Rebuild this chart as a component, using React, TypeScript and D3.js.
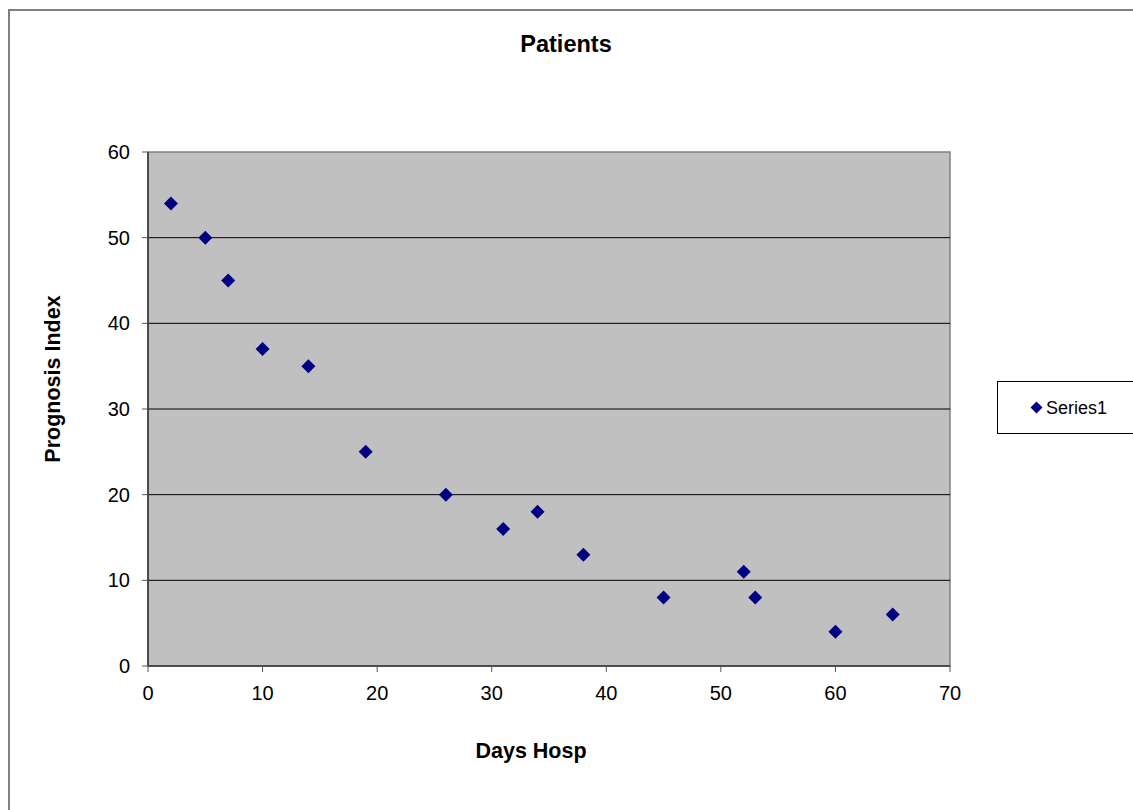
import React from "react";
import * as d3 from "d3";

const days = [2, 5, 7, 10, 14, 19, 26, 31, 34, 38, 45, 52, 53, 60, 65];
const prognosis = [54, 50, 45, 37, 35, 25, 20, 16, 18, 13, 8, 11, 8, 4, 6];
const xTicks = [0, 10, 20, 30, 40, 50, 60, 70];
const yTicks = [0, 10, 20, 30, 40, 50, 60];
const seriesName = "Series1";
const chartTitle = "Patients";
const xTitle = "Days Hosp";
const yTitle = "Prognosis Index";

const W = 1133;
const H = 810;
const plot = { left: 148, right: 950, top: 152, bottom: 666 };
const FONT = "'Liberation Sans', Arial, Helvetica, sans-serif";
const MARK = "#000080";

function diamond(cx: number, cy: number, r: number) {
  return `M${cx},${cy - r}L${cx + r},${cy}L${cx},${cy + r}L${cx - r},${cy}Z`;
}

export default function App() {
  const x = d3.scaleLinear().domain([0, 70]).range([plot.left, plot.right]);
  const y = d3.scaleLinear().domain([0, 60]).range([plot.bottom, plot.top]);

  return (
    <svg
      width={W}
      height={H}
      style={{ position: "absolute", left: 0, top: 0, display: "block", background: "#fff" }}
      fontFamily={FONT}
    >
      {/* outer chart border */}
      <rect x={9} y={10} width={1300} height={1000} fill="#fff" stroke="#808080" strokeWidth={2} />

      {/* title */}
      <text x={566} y={52} textAnchor="middle" fontSize={23.5} fontWeight="bold" fill="#000">
        {chartTitle}
      </text>

      {/* plot area */}
      <rect
        x={plot.left}
        y={plot.top}
        width={plot.right - plot.left}
        height={plot.bottom - plot.top}
        fill="#c0c0c0"
        stroke="#808080"
        strokeWidth={1.5}
      />

      {/* gridlines */}
      {yTicks
        .filter((t) => t !== 0 && t !== 60)
        .map((t) => (
          <line key={"g" + t} x1={plot.left} x2={plot.right} y1={y(t)} y2={y(t)} stroke="#000" strokeWidth={1} />
        ))}

      {/* axes */}
      <line x1={plot.left} x2={plot.left} y1={plot.top} y2={plot.bottom} stroke="#333" strokeWidth={1.5} />
      <line x1={plot.left} x2={plot.right} y1={plot.bottom} y2={plot.bottom} stroke="#333" strokeWidth={1.5} />

      {/* y ticks */}
      {yTicks.map((t) => (
        <g key={"y" + t}>
          <line x1={plot.left - 6} x2={plot.left} y1={y(t)} y2={y(t)} stroke="#555" strokeWidth={1} />
          <text x={130} y={y(t)} textAnchor="end" dominantBaseline="central" fontSize={20} fill="#000">
            {t}
          </text>
        </g>
      ))}

      {/* x ticks */}
      {xTicks.map((t) => (
        <g key={"x" + t}>
          <line x1={x(t)} x2={x(t)} y1={plot.bottom} y2={plot.bottom + 6} stroke="#555" strokeWidth={1} />
          <text x={x(t)} y={700} textAnchor="middle" fontSize={20} fill="#000">
            {t}
          </text>
        </g>
      ))}

      {/* axis titles */}
      <text x={531} y={758} textAnchor="middle" fontSize={21.5} fontWeight="bold" fill="#000">
        {xTitle}
      </text>
      <text
        transform={`translate(60,379) rotate(-90)`}
        textAnchor="middle"
        fontSize={21.5}
        fontWeight="bold"
        fill="#000"
      >
        {yTitle}
      </text>

      {/* points */}
      {days.map((d, i) => (
        <path key={"p" + i} d={diamond(x(d), y(prognosis[i]), 7)} fill={MARK} />
      ))}

      {/* legend */}
      <rect x={997.5} y={381.5} width={200} height={52} fill="#fff" stroke="#000" strokeWidth={1} />
      <path d={diamond(1036.5, 407.5, 6)} fill={MARK} />
      <text x={1046} y={414} fontSize={18} fill="#000">
        {seriesName}
      </text>
    </svg>
  );
}
